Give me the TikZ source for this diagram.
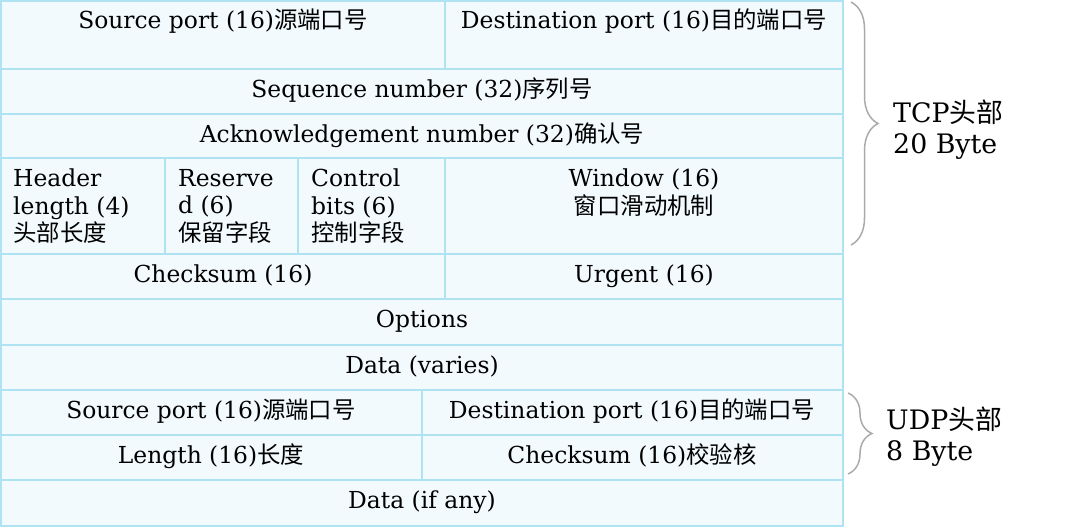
\documentclass[tikz,border=0pt]{standalone}
\usepackage{fontspec}
\setmainfont{DejaVu Serif}
\newfontfamily\cjk{Noto Sans CJK SC}
\usetikzlibrary{decorations.pathreplacing,positioning}

\definecolor{cellfill}{HTML}{F2FAFD}
\definecolor{cellline}{HTML}{B0E3F2}
\definecolor{bracegray}{HTML}{AAAAAA}

\tikzset{
  cell/.style={fill=cellfill, draw=cellline, line width=2pt},
  txt/.style={inner sep=0pt, font=\fontsize{23.4}{27.5}\selectfont},
  side/.style={inner sep=0pt, align=left, font=\fontsize{26.8}{31}\selectfont},
  curly/.style={draw=bracegray, line width=1.5pt, decorate},
}

\begin{document}
\begin{tikzpicture}[x=1pt,y=-1pt]
\useasboundingbox (0,0) rectangle (1081,527);

% TCP header
\draw[cell] (1,1) rectangle (445,69);
\draw[cell] (445,1) rectangle (843,69);
\draw[cell] (1,69) rectangle (843,114);
\draw[cell] (1,114) rectangle (843,158);
\draw[cell] (1,158) rectangle (165,254);
\draw[cell] (165,158) rectangle (298,254);
\draw[cell] (298,158) rectangle (445,254);
\draw[cell] (445,158) rectangle (843,254);
\draw[cell] (1,254) rectangle (445,299);
\draw[cell] (445,254) rectangle (843,299);
\draw[cell] (1,299) rectangle (843,345);
\draw[cell] (1,345) rectangle (843,390);
% UDP header
\draw[cell] (1,390) rectangle (422,435);
\draw[cell] (422,390) rectangle (843,435);
\draw[cell] (1,435) rectangle (422,480);
\draw[cell] (422,435) rectangle (843,480);
\draw[cell] (1,480) rectangle (843,526);

\node[txt, anchor=base] (tcpsrc) at (223,29) {Source port (16){\cjk 源端口号}};
\node[txt, anchor=base] (tcpdst) at (644,29) {Destination port (16){\cjk 目的端口号}};
\node[txt, anchor=base] (seq) at (422,97) {Sequence number (32){\cjk 序列号}};
\node[txt, anchor=base] (ack) at (422,142) {Acknowledgement number (32){\cjk 确认号}};
\node[txt, anchor=north west, align=left] (hlen) at (13,169) {Header\\length (4)\\{\cjk 头部长度}};
\node[txt, anchor=north west, align=left] (resv) at (178,169) {Reserve\\d (6)\\{\cjk 保留字段}};
\node[txt, anchor=north west, align=left] (ctrl) at (311,169) {Control\\bits (6)\\{\cjk 控制字段}};
\node[txt, anchor=north, align=center] (win) at (644,169) {Window (16)\\{\cjk 窗口滑动机制}};
\node[txt, anchor=base] (tcpsum) at (223,282) {Checksum (16)};
\node[txt, anchor=base] (urg) at (644,282) {Urgent (16)};
\node[txt, anchor=base] (opt) at (422,327) {Options};
\node[txt, anchor=base] (tcpdata) at (422,373) {Data (varies)};

\node[txt, anchor=base] (udpsrc) at (211,418) {Source port (16){\cjk 源端口号}};
\node[txt, anchor=base] (udpdst) at (632,418) {Destination port (16){\cjk 目的端口号}};
\node[txt, anchor=base] (len) at (211,463) {Length (16){\cjk 长度}};
\node[txt, anchor=base] (udpsum) at (632,463) {Checksum (16){\cjk 校验核}};
\node[txt, anchor=base] (udpdata) at (422,508) {Data (if any)};

% braces
\coordinate (tcptop) at (851,2);
\coordinate (tcpbot) at (851,245);
\draw[curly, decoration={brace, amplitude=27pt}] (tcptop) -- (tcpbot);
\node[side, anchor=north west] (tcplbl) at (893,100) {TCP{\cjk 头部}\\20 Byte};

\coordinate (udptop) at (848,393);
\coordinate (udpbot) at (848,474);
\draw[curly, decoration={brace, amplitude=24pt}] (udptop) -- (udpbot);
\node[side, anchor=north west] (udplbl) at (886,407) {UDP{\cjk 头部}\\8 Byte};
\end{tikzpicture}
\end{document}
